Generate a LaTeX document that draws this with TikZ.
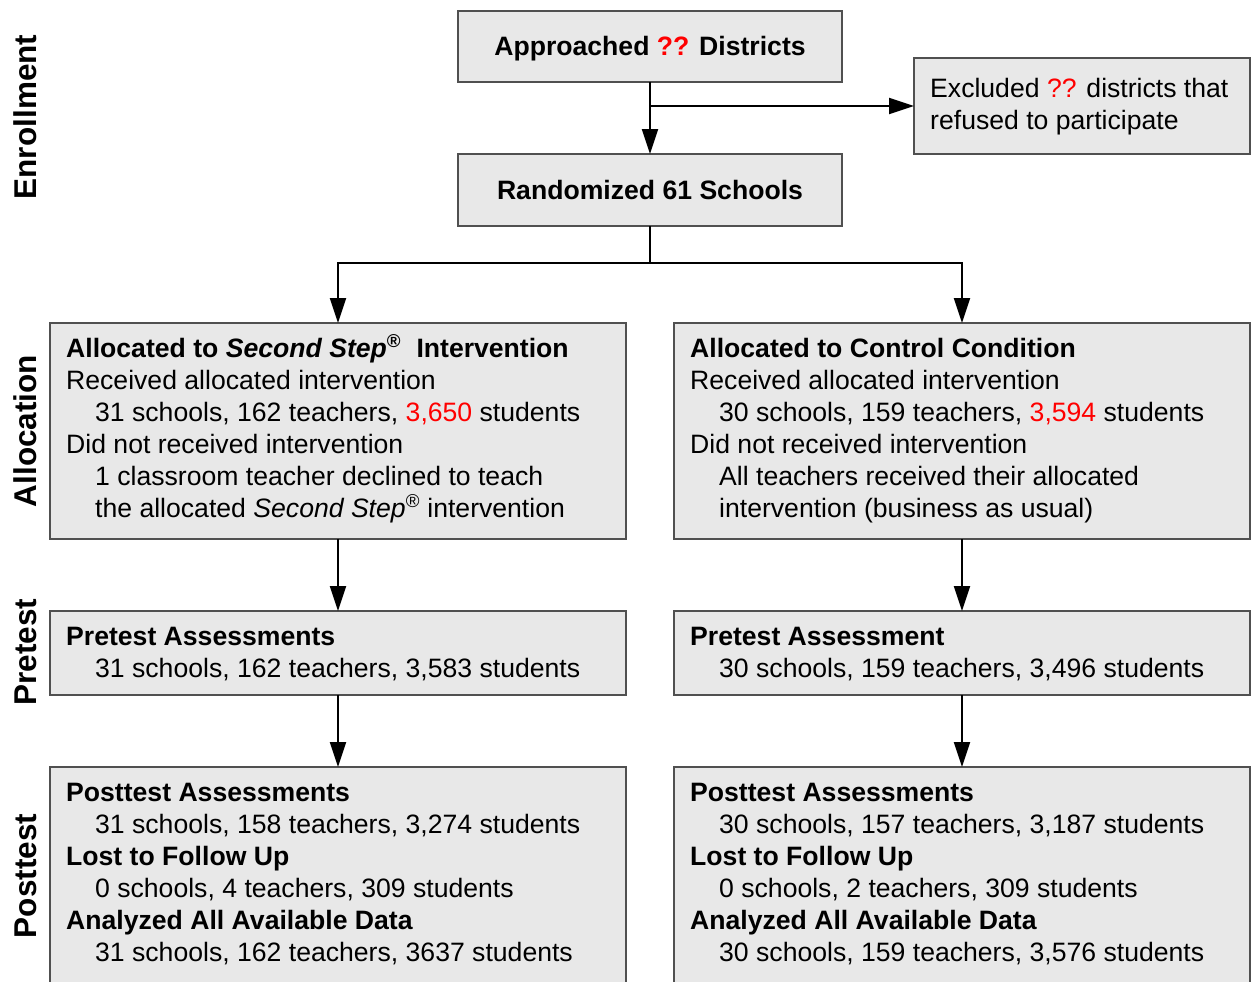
\documentclass[tikz,border=0pt]{standalone}
\usepackage{fontspec}
\setmainfont{Liberation Sans}
\usetikzlibrary{arrows.meta,calc}

\definecolor{boxfill}{RGB}{232,232,232}
\definecolor{boxline}{RGB}{80,80,80}
\definecolor{hl}{RGB}{255,0,0}

\newcommand{\bodyfont}{\fontsize{26.6}{32}\selectfont}
\newcommand{\regmark}{\textsuperscript{\smash{\textregistered}}}
\newcommand{\ind}{\hspace*{29pt}}
\newcommand{\hot}[1]{\textcolor{hl}{#1}}

\tikzset{
  box/.style={draw=boxline, line width=1.2pt, fill=boxfill, inner sep=0pt, outer sep=0pt},
  headbox/.style={box, font=\bodyfont\bfseries, text height=19pt, text depth=0pt},
  body/.style={anchor=base west, inner sep=0pt, font=\bodyfont},
  arr/.style={line width=2pt, -{Triangle[length=25pt,width=16pt]}},
  link/.style={line width=2pt},
  phase/.style={rotate=90, anchor=base, inner sep=0pt, font=\bfseries\fontsize{31.5}{36}\selectfont}
}

\begin{document}
\begin{tikzpicture}[x=1pt,y=-1pt]
\useasboundingbox (0,0) rectangle (1254,982);
\clip (0,0) rectangle (1254,982);

% phase labels down the left margin
\node[phase] (ph1) at (36,117) {Enrollment};
\node[phase] (ph2) at (36,431) {Allocation};
\node[phase] (ph3) at (36,652) {Pretest};
\node[phase] (ph4) at (36,876) {Posttest};

% enrollment
\node[headbox, minimum width=384pt, minimum height=71pt] (appr) at (650,46.5)
  {Approached \hot{??} Districts};
\node[box, minimum width=336pt, minimum height=96pt] (excl) at (1082,106) {};
\node[body] (excltxt) at (930,98)
  {\begin{tabular}[t]{@{}l@{}}Excluded \hot{??} districts that\\refused to participate\end{tabular}};
\node[headbox, minimum width=384pt, minimum height=72pt] (rand) at (650,190)
  {Randomized 61 Schools};

% allocation
\node[box, minimum width=576pt, minimum height=216pt] (allocL) at (338,431) {};
\node[body] (allocLtxt) at (66,357) {\begin{tabular}[t]{@{}l@{}}
  \textbf{Allocated to \textit{Second Step}\regmark\hspace{0.3em} Intervention}\\
  Received allocated intervention\\
  \ind 31 schools, 162 teachers, \hot{3,650} students\\
  Did not received intervention\\
  \ind 1 classroom teacher declined to teach\\
  \ind the allocated \textit{Second Step}\regmark{} intervention
\end{tabular}};

\node[box, minimum width=576pt, minimum height=216pt] (allocR) at (962,431) {};
\node[body] (allocRtxt) at (690,357) {\begin{tabular}[t]{@{}l@{}}
  \textbf{Allocated to Control Condition}\\
  Received allocated intervention\\
  \ind 30 schools, 159 teachers, \hot{3,594} students\\
  Did not received intervention\\
  \ind All teachers received their allocated\\
  \ind intervention (business as usual)
\end{tabular}};

% pretest
\node[box, minimum width=576pt, minimum height=84pt] (preL) at (338,653) {};
\node[body] (preLtxt) at (66,645) {\begin{tabular}[t]{@{}l@{}}
  \textbf{Pretest Assessments}\\
  \ind 31 schools, 162 teachers, 3,583 students
\end{tabular}};
\node[box, minimum width=576pt, minimum height=84pt] (preR) at (962,653) {};
\node[body] (preRtxt) at (690,645) {\begin{tabular}[t]{@{}l@{}}
  \textbf{Pretest Assessment}\\
  \ind 30 schools, 159 teachers, 3,496 students
\end{tabular}};

% posttest (boxes run past the lower edge)
\node[box, minimum width=576pt, minimum height=250pt] (postL) at (338,892) {};
\node[body] (postLtxt) at (66,801) {\begin{tabular}[t]{@{}l@{}}
  \textbf{Posttest Assessments}\\
  \ind 31 schools, 158 teachers, 3,274 students\\
  \textbf{Lost to Follow Up}\\
  \ind 0 schools, 4 teachers, 309 students\\
  \textbf{Analyzed All Available Data}\\
  \ind 31 schools, 162 teachers, 3637 students
\end{tabular}};
\node[box, minimum width=576pt, minimum height=250pt] (postR) at (962,892) {};
\node[body] (postRtxt) at (690,801) {\begin{tabular}[t]{@{}l@{}}
  \textbf{Posttest Assessments}\\
  \ind 30 schools, 157 teachers, 3,187 students\\
  \textbf{Lost to Follow Up}\\
  \ind 0 schools, 2 teachers, 309 students\\
  \textbf{Analyzed All Available Data}\\
  \ind 30 schools, 159 teachers, 3,576 students
\end{tabular}};

% connectors
\draw[arr] (appr.south) -- (rand.north);
\draw[arr] (appr.south |- excl.west) -- (excl.west);
\coordinate (fork) at (650,263);
\draw[link] (rand.south) -- (fork);
\draw[arr] (fork) -| (allocL.north);
\draw[arr] (fork) -| (allocR.north);
\draw[arr] (allocL.south) -- (preL.north);
\draw[arr] (allocR.south) -- (preR.north);
\draw[arr] (preL.south) -- (postL.north);
\draw[arr] (preR.south) -- (postR.north);
\end{tikzpicture}
\end{document}
